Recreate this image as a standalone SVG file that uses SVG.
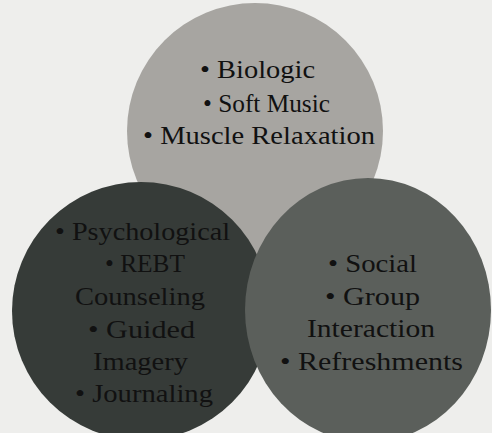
<svg xmlns="http://www.w3.org/2000/svg" width="492" height="433" viewBox="0 0 492 433">
<style>
.bg{fill:#eeeeec}
.t{font-family:"Liberation Serif","Times New Roman",serif;font-size:26px;fill:#111111}
</style>
<rect class="bg" x="0" y="0" width="492" height="433"/>
<g id="node-biologic">
<ellipse cx="255" cy="131" rx="128" ry="128" fill="#a7a5a1"/>
<text class="t" x="200" y="78" textLength="115" lengthAdjust="spacingAndGlyphs">• Biologic</text>
<text class="t" x="203" y="112" textLength="127" lengthAdjust="spacingAndGlyphs">• Soft Music</text>
<text class="t" x="143" y="144" textLength="232" lengthAdjust="spacingAndGlyphs">• Muscle Relaxation</text>
</g>
<g id="node-psychological">
<ellipse cx="141" cy="311" rx="129" ry="129" fill="#363b38"/>
<text class="t" x="55" y="240" textLength="175" lengthAdjust="spacingAndGlyphs">• Psychological</text>
<text class="t" x="105" y="272" textLength="80" lengthAdjust="spacingAndGlyphs">• REBT</text>
<text class="t" x="75" y="305" textLength="130" lengthAdjust="spacingAndGlyphs">Counseling</text>
<text class="t" x="88" y="338" textLength="107" lengthAdjust="spacingAndGlyphs">• Guided</text>
<text class="t" x="93" y="370" textLength="95" lengthAdjust="spacingAndGlyphs">Imagery</text>
<text class="t" x="75" y="402" textLength="138" lengthAdjust="spacingAndGlyphs">• Journaling</text>
</g>
<g id="node-social">
<ellipse cx="368" cy="310" rx="123" ry="132" fill="#5b5f5b"/>
<text class="t" x="328" y="272" textLength="89" lengthAdjust="spacingAndGlyphs">• Social</text>
<text class="t" x="325" y="305" textLength="95" lengthAdjust="spacingAndGlyphs">• Group</text>
<text class="t" x="307" y="337" textLength="128" lengthAdjust="spacingAndGlyphs">Interaction</text>
<text class="t" x="280" y="370" textLength="183" lengthAdjust="spacingAndGlyphs">• Refreshments</text>
</g>
</svg>
